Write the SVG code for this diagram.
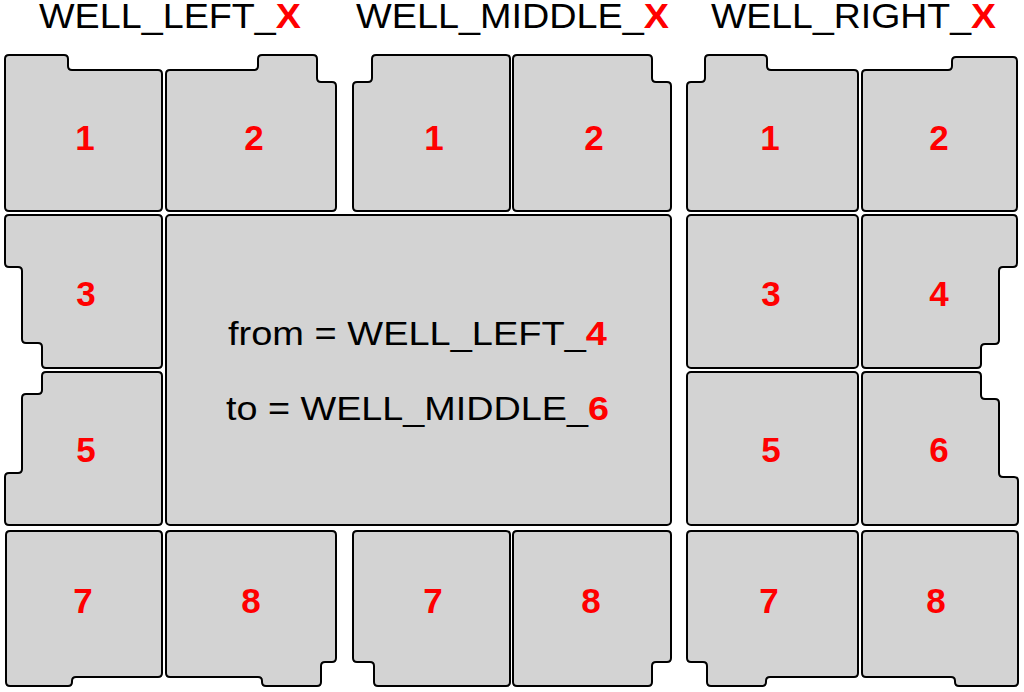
<svg xmlns="http://www.w3.org/2000/svg" width="1024" height="692" viewBox="0 0 1024 692">
<style>
.t{fill:#d3d3d3;stroke:#000;stroke-width:2;stroke-linejoin:round}
.n{font-family:"Liberation Sans",Arial,sans-serif;font-weight:bold;font-size:35px;fill:#ff0000;text-anchor:middle}
.h{font-family:"Liberation Sans",Arial,sans-serif;font-size:35px;fill:#000}
.c{font-family:"Liberation Sans",Arial,sans-serif;font-size:33px;fill:#000}
.r{fill:#ff0000;font-weight:bold}
</style>
<rect width="1024" height="692" fill="#fff"/>
<g id="titles">
<text class="h" x="39" y="28" textLength="262" lengthAdjust="spacingAndGlyphs">WELL_LEFT_<tspan class="r">X</tspan></text>
<text class="h" x="356" y="28" textLength="313" lengthAdjust="spacingAndGlyphs">WELL_MIDDLE_<tspan class="r">X</tspan></text>
<text class="h" x="711" y="28" textLength="285" lengthAdjust="spacingAndGlyphs">WELL_RIGHT_<tspan class="r">X</tspan></text>
</g>
<g id="left-1"><path class="t" d="M5,59 Q5,55 9,55 L64,55 Q68,55 68,59 L68,66 Q68,70 72,70 L158,70 Q162,70 162,74 L162,207 Q162,211 158,211 L9,211 Q5,211 5,207 Z"/><text class="n" x="85" y="150">1</text></g>
<g id="left-2"><path class="t" d="M166,74 Q166,70 170,70 L254,70 Q258,70 258,66 L258,59 Q258,55 262,55 L313,55 Q317,55 317,59 L317,78 Q317,82 321,82 L332,82 Q336,82 336,86 L336,207 Q336,211 332,211 L170,211 Q166,211 166,207 Z"/><text class="n" x="254" y="150">2</text></g>
<g id="middle-1"><path class="t" d="M353,86 Q353,82 357,82 L368,82 Q372,82 372,78 L372,59 Q372,55 376,55 L506,55 Q510,55 510,59 L510,207 Q510,211 506,211 L357,211 Q353,211 353,207 Z"/><text class="n" x="434" y="150">1</text></g>
<g id="middle-2"><path class="t" d="M513,59 Q513,55 517,55 L648,55 Q652,55 652,59 L652,78 Q652,82 656,82 L667,82 Q671,82 671,86 L671,207 Q671,211 667,211 L517,211 Q513,211 513,207 Z"/><text class="n" x="594" y="150">2</text></g>
<g id="right-1"><path class="t" d="M687,86 Q687,82 691,82 L701,82 Q705,82 705,78 L705,59 Q705,55 709,55 L763,55 Q767,55 767,59 L767,66 Q767,70 771,70 L854,70 Q858,70 858,74 L858,207 Q858,211 854,211 L691,211 Q687,211 687,207 Z"/><text class="n" x="770" y="150">1</text></g>
<g id="right-2"><path class="t" d="M862,74 Q862,70 866,70 L948,70 Q952,70 952,66 L952,61 Q952,57 956,57 L1013,57 Q1017,57 1017,61 L1017,207 Q1017,211 1013,211 L866,211 Q862,211 862,207 Z"/><text class="n" x="939" y="150">2</text></g>
<g id="left-3"><path class="t" d="M5,219 Q5,215 9,215 L158,215 Q162,215 162,219 L162,364 Q162,368 158,368 L46,368 Q42,368 42,364 L42,347 Q42,343 38,343 L26,343 Q22,343 22,339 L22,271 Q22,267 18,267 L9,267 Q5,267 5,263 Z"/><text class="n" x="86" y="306">3</text></g>
<g id="left-5"><path class="t" d="M42,376 Q42,372 46,372 L158,372 Q162,372 162,376 L162,521 Q162,525 158,525 L9,525 Q5,525 5,521 L5,477 Q5,473 9,473 L18,473 Q22,473 22,469 L22,398 Q22,394 26,394 L38,394 Q42,394 42,390 Z"/><text class="n" x="86" y="462">5</text></g>
<g id="center"><rect class="t" x="166" y="215" width="505" height="310" rx="4"/>
<text class="c" x="228" y="345" textLength="379" lengthAdjust="spacingAndGlyphs">from = WELL_LEFT_<tspan class="r">4</tspan></text>
<text class="c" x="226" y="420" textLength="383" lengthAdjust="spacingAndGlyphs">to = WELL_MIDDLE_<tspan class="r">6</tspan></text></g>
<g id="right-3"><rect class="t" x="687" y="215" width="171" height="153" rx="4"/><text class="n" x="771" y="306">3</text></g>
<g id="right-5"><rect class="t" x="687" y="372" width="171" height="153" rx="4"/><text class="n" x="771" y="462">5</text></g>
<g id="right-4"><path class="t" d="M862,219 Q862,215 866,215 L1013,215 Q1017,215 1017,219 L1017,263 Q1017,267 1013,267 L1003,267 Q999,267 999,271 L999,340 Q999,344 995,344 L985,344 Q981,344 981,348 L981,364 Q981,368 977,368 L866,368 Q862,368 862,364 Z"/><text class="n" x="939" y="306">4</text></g>
<g id="right-6"><path class="t" d="M862,376 Q862,372 866,372 L977,372 Q981,372 981,376 L981,395 Q981,399 985,399 L995,399 Q999,399 999,403 L999,473 Q999,477 1003,477 L1014,477 Q1018,477 1018,481 L1018,521 Q1018,525 1014,525 L866,525 Q862,525 862,521 Z"/><text class="n" x="939" y="462">6</text></g>
<g id="left-7"><path class="t" d="M6,535 Q6,531 10,531 L158,531 Q162,531 162,535 L162,673 Q162,677 158,677 L76,677 Q72,677 72,681 L72,682 Q72,686 68,686 L10,686 Q6,686 6,682 Z"/><text class="n" x="83" y="613">7</text></g>
<g id="left-8"><path class="t" d="M166,535 Q166,531 170,531 L332,531 Q336,531 336,535 L336,658 Q336,662 332,662 L325,662 Q321,662 321,666 L321,682 Q321,686 317,686 L266,686 Q262,686 262,682 L262,681 Q262,677 258,677 L170,677 Q166,677 166,673 Z"/><text class="n" x="251" y="613">8</text></g>
<g id="middle-7"><path class="t" d="M353,535 Q353,531 357,531 L506,531 Q510,531 510,535 L510,682 Q510,686 506,686 L378,686 Q374,686 374,682 L374,666 Q374,662 370,662 L357,662 Q353,662 353,658 Z"/><text class="n" x="433" y="613">7</text></g>
<g id="middle-8"><path class="t" d="M513,535 Q513,531 517,531 L667,531 Q671,531 671,535 L671,658 Q671,662 667,662 L656,662 Q652,662 652,666 L652,682 Q652,686 648,686 L517,686 Q513,686 513,682 Z"/><text class="n" x="591" y="613">8</text></g>
<g id="right-7"><path class="t" d="M687,535 Q687,531 691,531 L854,531 Q858,531 858,535 L858,673 Q858,677 854,677 L770,677 Q766,677 766,681 L766,682 Q766,686 762,686 L711,686 Q707,686 707,682 L707,666 Q707,662 703,662 L691,662 Q687,662 687,658 Z"/><text class="n" x="769" y="613">7</text></g>
<g id="right-8"><path class="t" d="M862,535 Q862,531 866,531 L1014,531 Q1018,531 1018,535 L1018,682 Q1018,686 1014,686 L959,686 Q955,686 955,682 L955,681 Q955,677 951,677 L866,677 Q862,677 862,673 Z"/><text class="n" x="936" y="613">8</text></g>
</svg>
